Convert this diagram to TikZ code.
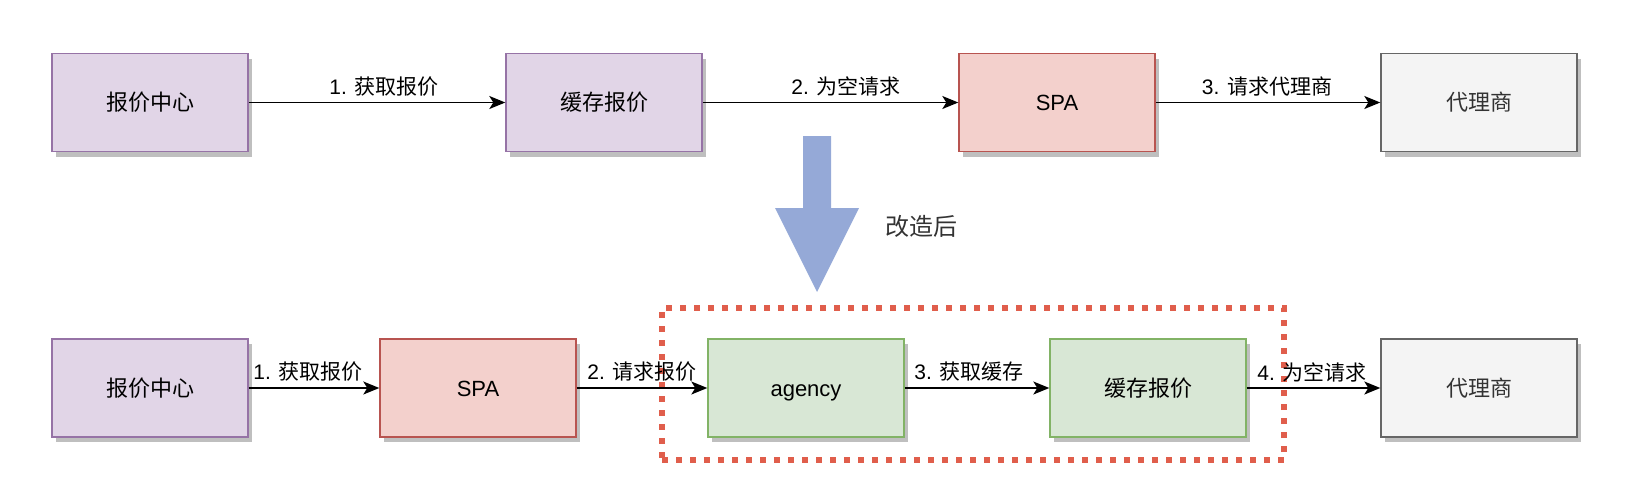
\documentclass[tikz,border=0pt]{standalone}
\usepackage{fontspec}
\setmainfont{Liberation Sans}
\newfontfamily\cjkfont{Noto Sans CJK SC}
\usetikzlibrary{arrows.meta,shadows}
\newcommand{\zh}[1]{{\cjkfont #1}}
\definecolor{purpleFill}{HTML}{E1D5E7}
\definecolor{purpleLine}{HTML}{9673A6}
\definecolor{redFill}{HTML}{F3D0CC}
\definecolor{redLine}{HTML}{B85450}
\definecolor{greenFill}{HTML}{D8E7D5}
\definecolor{greenLine}{HTML}{82B366}
\definecolor{grayFill}{HTML}{F4F4F4}
\definecolor{grayLine}{HTML}{666666}
\definecolor{grayText}{HTML}{333333}
\definecolor{groupRed}{HTML}{E05E4C}
\definecolor{arrowBlue}{HTML}{95A9D7}
\begin{document}
\begin{tikzpicture}[x=1pt,y=-1pt,
  box/.style={draw, line width=1.4pt, minimum width=196pt, minimum height=98pt, inner sep=0pt,
    text height=18pt, text depth=2pt,
    font=\fontsize{22}{26}\selectfont,
    drop shadow={shadow xshift=4pt, shadow yshift=-5pt, fill=black!25, opacity=1}},
  pbox/.style={box, fill=purpleFill, draw=purpleLine},
  rbox/.style={box, fill=redFill, draw=redLine},
  gbox/.style={box, fill=greenFill, draw=greenLine},
  ybox/.style={box, fill=grayFill, draw=grayLine, text=grayText},
  conn/.style={line width=1.4pt, -{Stealth[length=16pt,width=13pt,inset=4pt]}},
  elabel/.style={inner sep=0pt, font=\fontsize{21}{24}\selectfont},
  groupbox/.style={draw=groupRed, line width=5.5pt, dash pattern=on 6pt off 8pt,
    minimum width=622pt, minimum height=152pt, inner sep=0pt},
  note/.style={inner sep=0pt, text=grayText, font=\fontsize{24}{28}\selectfont}
]
\useasboundingbox (0,0) rectangle (1640,488);

% top row
\node[pbox] (t1) at (150,102.5) {\zh{报价中心}};
\node[pbox] (t2) at (604,102.5) {\zh{缓存报价}};
\node[rbox] (t3) at (1057,102.5) {SPA};
\node[ybox] (t4) at (1479,102.5) {\zh{代理商}};
\draw[conn] (t1) -- (t2);
\draw[conn] (t2) -- (t3);
\draw[conn] (t3) -- (t4);
\node[elabel] (lt1) at (384,86.5) {1. \zh{获取报价}};
\node[elabel] (lt2) at (846,86.5) {2. \zh{为空请求}};
\node[elabel] (lt3) at (1267,86.5) {3. \zh{请求代理商}};

% big arrow
\fill[arrowBlue] (803,136) -- (831,136) -- (831,208) -- (859,208) -- (817,292)
  -- (775,208) -- (803,208) -- cycle;
\node[note] (after) at (921.5,226) {\zh{改造后}};

% bottom row
\node[groupbox] (grp) at (973,384) {};
\node[pbox] (b1) at (150,388) {\zh{报价中心}};
\node[rbox] (b2) at (478,388) {SPA};
\node[gbox] (b3) at (806,388) {agency};
\node[gbox] (b4) at (1148,388) {\zh{缓存报价}};
\node[ybox] (b5) at (1479,388) {\zh{代理商}};
\draw[conn] (b1) -- (b2);
\draw[conn] (b2) -- (b3);
\draw[conn] (b3) -- (b4);
\draw[conn] (b4) -- (b5);
\node[elabel] (lb1) at (308,372) {1. \zh{获取报价}};
\node[elabel] (lb2) at (642,372) {2. \zh{请求报价}};
\node[elabel] (lb3) at (969,372) {3. \zh{获取缓存}};
\node[elabel] (lb4) at (1312,372) {4. \zh{为空请求}};
\end{tikzpicture}
\end{document}
